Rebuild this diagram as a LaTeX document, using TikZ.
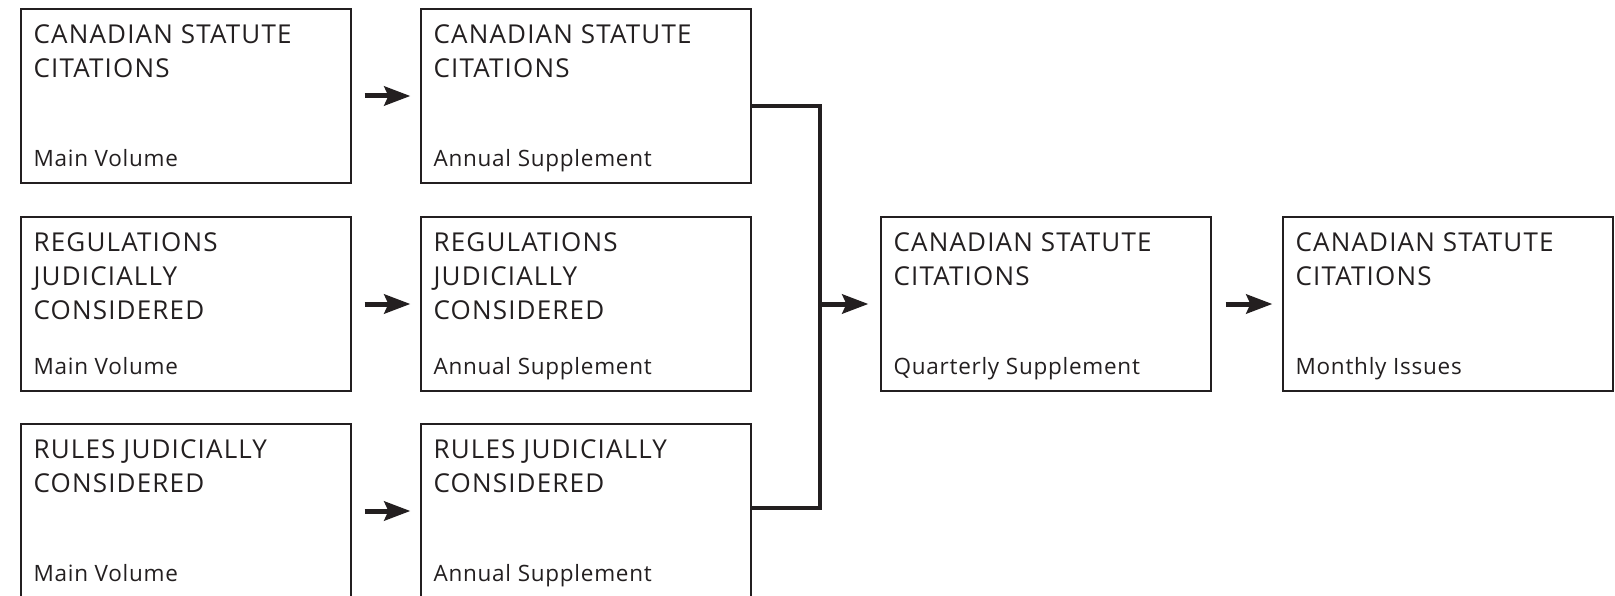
\documentclass[tikz,border=0pt]{standalone}
\usepackage{fontspec}
\setmainfont{Open Sans}
\newfontfamily\titlefont[LetterSpace=4.5]{Open Sans}
\newfontfamily\subfont[LetterSpace=3.3]{Open Sans}
\usetikzlibrary{arrows.meta}
\definecolor{ink}{HTML}{231F20}

\begin{document}
\begin{tikzpicture}[x=1pt,y=-1pt,
    box/.style ={draw=ink, line width=1.2pt, minimum width=330pt, minimum height=174pt, inner sep=0pt},
    title/.style ={anchor=north west, xshift=13pt, yshift=-16pt, inner sep=0pt, align=left, text=ink, font=\titlefont\fontsize{26}{34}\selectfont},
    sub/.style ={anchor=base west, xshift=13pt, yshift=17pt, inner sep=0pt, text=ink, font=\subfont\fontsize{22.5}{27}\selectfont},
    arr/.style ={draw=ink, line width=5pt, -{Stealth[length=26pt,width=19pt,inset=4pt]}, shorten <=13pt, shorten >=10pt},
    bracket/.style ={draw=ink, line width=4.5pt}]
  \useasboundingbox (0,0) rectangle (1615,596);
   \node[box, label={[title]north west:{CANADIAN STATUTE\\CITATIONS}}, label={[sub]south west:Main Volume}] (m1) at (186,96) {};
   \node[box, label={[title]north west:{REGULATIONS\\JUDICIALLY\\CONSIDERED}}, label={[sub]south west:Main Volume}] (m2) at (186,304) {};
   \node[box, label={[title]north west:{RULES JUDICIALLY\\CONSIDERED}}, label={[sub]south west:Main Volume}] (m3) at (186,511) {};
   \node[box, label={[title]north west:{CANADIAN STATUTE\\CITATIONS}}, label={[sub]south west:Annual Supplement}] (a1) at (586,96) {};
   \node[box, label={[title]north west:{REGULATIONS\\JUDICIALLY\\CONSIDERED}}, label={[sub]south west:Annual Supplement}] (a2) at (586,304) {};
   \node[box, label={[title]north west:{RULES JUDICIALLY\\CONSIDERED}}, label={[sub]south west:Annual Supplement}] (a3) at (586,511) {};
   \node[box, label={[title]north west:{CANADIAN STATUTE\\CITATIONS}}, label={[sub]south west:Quarterly Supplement}] (q) at (1046,304) {};
   \node[box, label={[title]north west:{CANADIAN STATUTE\\CITATIONS}}, label={[sub]south west:Monthly Issues}] (mo) at (1448,304) {};
   \coordinate (j) at (820,304);
   \draw[arr] (m1) -- (a1);
   \draw[arr] (m2) -- (a2);
   \draw[arr] (m3) -- (a3);
   \draw[bracket] ([yshift=-10pt]a1.east) -| (j) |- ([yshift=3pt]a3.east);
   \draw[arr, shorten <=0pt, shorten >=12pt] (j) -- (q);
   \draw[arr, shorten <=14pt] (q) -- (mo);
\end{tikzpicture}
\end{document}
